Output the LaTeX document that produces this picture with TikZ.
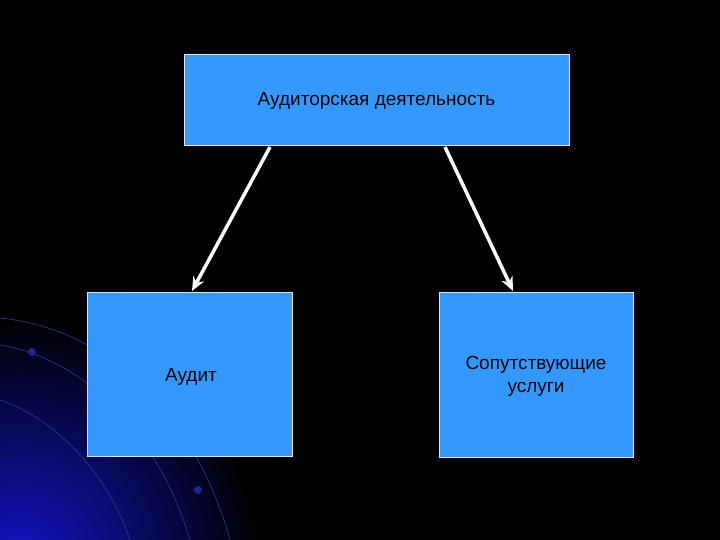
\documentclass[tikz,border=0pt]{standalone}
\usepackage{fontspec}
\setmainfont{Liberation Sans}
\usetikzlibrary{arrows.meta}
\definecolor{boxblue}{RGB}{51,153,255}
\definecolor{arcblue}{RGB}{40,60,160}
\definecolor{dotblue}{RGB}{30,40,140}
\definecolor{glow}{RGB}{20,20,200}
\begin{document}
\begin{tikzpicture}[x=1pt,y=-1pt,
  box/.style={draw=white!80!gray,line width=0.8pt,fill=boxblue,anchor=north west,inner sep=0pt},
  lbl/.style={font=\fontsize{19}{23}\selectfont,text=black,align=center},
  arr/.style={draw=white,line width=3.5pt,-{Stealth[length=14pt,width=12pt]}},
  arc/.style={draw=arcblue,line width=0.6pt}]
\useasboundingbox (0,0) rectangle (720,540);
\fill[black] (0,0) rectangle (720,540);
\begin{scope}
\clip (0,300) rectangle (260,540);
\shade[inner color=glow,outer color=black] (20,560) circle (240);
\end{scope}
\draw[arc] (0,318) .. controls (120,330) and (200,430) .. (230,540);
\draw[arc] (0,345) .. controls (90,360) and (160,440) .. (190,540);
\draw[arc] (0,400) .. controls (60,420) and (110,480) .. (130,540);
\fill[dotblue] (32,352) circle (4);
\fill[dotblue] (198,490) circle (4);
\node[box,minimum width=385pt,minimum height=91pt] (top) at (184,54) {};
\node[lbl] (toptext) at (376.5,101) {Аудиторская деятельность};
\node[box,minimum width=205pt,minimum height=164pt] (left) at (87,292) {};
\node[lbl] (lefttext) at (191,377) {Аудит};
\node[box,minimum width=194pt,minimum height=165pt] (right) at (439,292) {};
\node[lbl] (righttext) at (536,376) {Сопутствующие\\услуги};
\coordinate (a1) at (270,147);
\coordinate (a2) at (445,147);
\coordinate (b1) at (192,291);
\coordinate (b2) at (513,291);
\draw[arr] (a1) -- (b1);
\draw[arr] (a2) -- (b2);
\end{tikzpicture}
\end{document}
